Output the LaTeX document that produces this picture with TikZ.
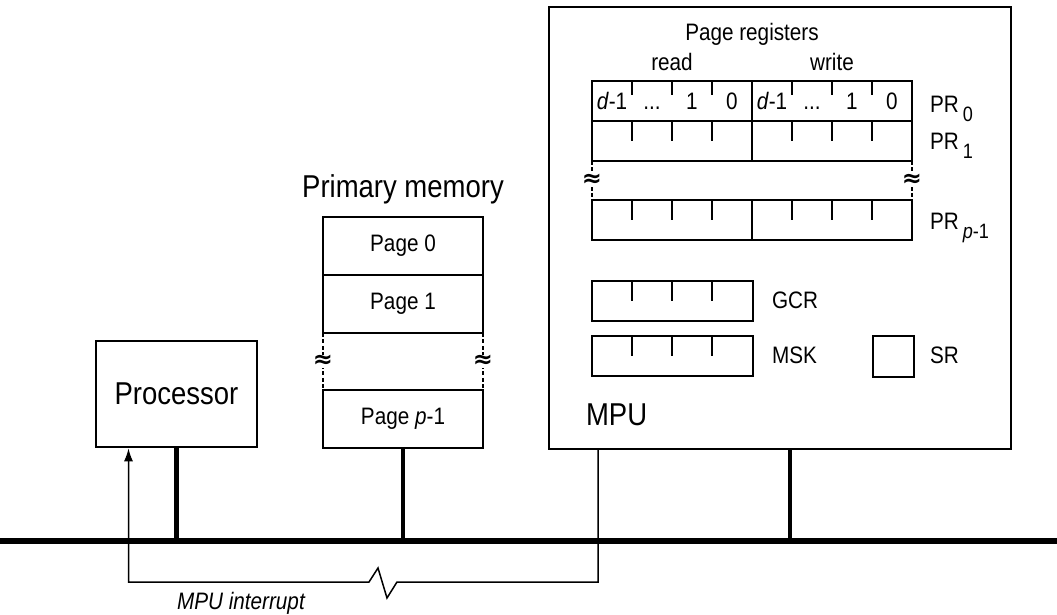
\documentclass[tikz,border=0pt]{standalone}
\usepackage{fontspec}
\setmainfont{Liberation Sans}[FakeStretch=0.87]
\newfontfamily\brkfont{DejaVu Sans}
\usetikzlibrary{arrows.meta}
\usetikzlibrary{positioning}

\newcommand{\lowsub}[1]{\hspace{2pt}\raisebox{-4.5pt}{\fontsize{10.4}{11}\selectfont #1}}
\newcommand{\bitdots}{...}

\tikzset{
	bigtext/.style={font=\fontsize{15.8}{18}\selectfont},
	smalltext/.style={font=\fontsize{11.9}{14}\selectfont},
	unitbox/.style={draw, line width=1.3pt, inner sep=0pt, bigtext},
	pagebox/.style={draw, line width=1.3pt, outer sep=0pt, minimum width=80pt, minimum height=29pt, inner sep=0pt, smalltext},
	regbox/.style={draw, line width=1pt, outer sep=0pt, minimum width=80pt, minimum height=20pt, inner sep=0pt},
	bus/.style={line width=2.7pt},
	stub/.style={line width=2.3pt},
	wire/.style={line width=0.75pt},
	gapline/.style={line width=1pt, dash pattern=on 2pt off 1.2pt},
	brk/.style={fill=white, inner sep=0pt, font=\brkfont\bfseries\fontsize{12}{12}\selectfont}
}

\begin{document}
\begin{tikzpicture}[x=0.5pt,y=-0.5pt]
	\useasboundingbox (0,0) rectangle (1057,615);
	% bus
	\coordinate (busL) at (0,541);
	\coordinate (busR) at (1057,541);
	\draw[bus] (busL) -- (busR);
	% processor
	\node[unitbox, minimum width=80.5pt, minimum height=53pt] (proc) at (176.5,394) {Processor};
	\draw[stub] (proc.south) -- (proc.south |- busL);
	% primary memory
	\node[bigtext, anchor=base] (memtitle) at (403,198) {Primary memory};
	\node[pagebox] (pg0) at (403,246) {Page 0};
	\node[pagebox, below=0pt of pg0] (pg1) {Page 1};
	\node[pagebox] (pgp) at (403,419) {Page \textit{p}-1};
	\draw[gapline] (pg1.south west) -- (pgp.north west) node[brk, midway] (brk1) {≈};
	\draw[gapline] (pg1.south east) -- (pgp.north east) node[brk, midway] (brk2) {≈};
	\draw[stub] (pgp.south) -- (pgp.south |- busL);
	% MPU
	\node[draw, line width=0.9pt, minimum width=231pt, minimum height=221pt, inner sep=0pt] (mpu) at (780,228) {};
	\node[bigtext, anchor=base west] (mpulab) at (579,425) {MPU};
	\coordinate (mpuport) at ([xshift=5pt]mpu.south);
	\draw[stub] (mpuport) -- (mpuport |- busL);
	% page registers
	\node[smalltext, anchor=base] (prtitle) at (752,41) {Page registers};
	\node[smalltext, anchor=base] (rdlab) at (672,71) {read};
	\node[smalltext, anchor=base] (wrlab) at (832,71) {write};
	\node[regbox] (pr0r) at (672,101) {};
	\node[regbox, right=0pt of pr0r] (pr0w) {};
	\node[regbox, below=0pt of pr0r] (pr1r) {};
	\node[regbox, below=0pt of pr0w] (pr1w) {};
	\node[regbox] (prpr) at (672,220) {};
	\node[regbox, right=0pt of prpr] (prpw) {};
	\draw[gapline] (pr1r.south west) -- (prpr.north west) node[brk, midway] (brk3) {≈};
	\draw[gapline] (pr1w.south east) -- (prpw.north east) node[brk, midway] (brk4) {≈};
	\node[smalltext, anchor=base west] (pr0lab) at (923,113) {PR\lowsub{0}};
	\node[smalltext, anchor=base west] (pr1lab) at (923,150) {PR\lowsub{1}};
	\node[smalltext, anchor=base west] (prplab) at (923,230) {PR\lowsub{\textit{p}-1}};
	% bit numbers of PR0
	\foreach \reg in {pr0r,pr0w}
		\foreach \txt [count=\k] in {\textit{d}-1,\bitdots,1,0}
			\node[smalltext, anchor=base] (\reg-\k) at ([xshift=(\k-0.5)*20pt, yshift=-14.5pt]\reg.north west) {\txt};
	% GCR, MSK and SR
	\node[regbox, minimum width=80.5pt] (gcr) at (672.5,301) {};
	\node[smalltext, anchor=base west] (gcrlab) at (765,309) {GCR};
	\node[regbox, minimum width=80.5pt] (msk) at (672.5,356.5) {};
	\node[smalltext, anchor=base west] (msklab) at (765,364) {MSK};
	\node[regbox, minimum width=20.5pt, minimum height=20.5pt] (sr) at (893.5,356.5) {};
	\node[smalltext, anchor=base west] (srlab) at (923,364) {SR};
	% bit ticks
	\foreach \reg in {pr1r,pr1w,prpr,prpw,gcr,msk}
		\foreach \k in {1,2,3}
			\draw[line width=1pt] ([xshift=\k*20pt]\reg.north west) -- ++(0,-10pt);
	\foreach \reg in {pr0r,pr0w}
		\foreach \k in {1,2,3}
			\draw[line width=1pt] ([xshift=\k*20pt]\reg.north west) -- ++(0,-7pt);
	% interrupt line
	\coordinate (irqout) at ([xshift=-91pt]mpu.south);
	\coordinate (irqin) at ([xshift=-24pt]proc.south);
	\draw[wire, -{Latex[length=6.5pt,width=4.5pt]}] (irqout) |- (397,582) -- (387,598) -- (378,568) -- (369,582) -| (irqin);
	\node[smalltext, anchor=base west] (irqlab) at (170,609) {\textit{MPU interrupt}};
\end{tikzpicture}
\end{document}
